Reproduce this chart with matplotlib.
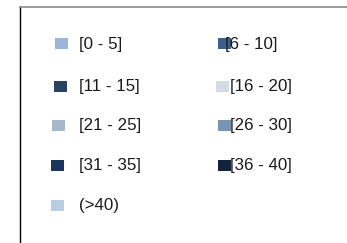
import matplotlib
matplotlib.use('Agg')
import matplotlib.pyplot as plt
from matplotlib.patches import Rectangle

# legend entries (row-major, two columns)
labels = ['[0 - 5]', '[6 - 10]', '[11 - 15]', '[16 - 20]', '[21 - 25]',
          '[26 - 30]', '[31 - 35]', '[36 - 40]', '(>40)']
colors = ['#9ab5d8', '#3d5f8f', '#2b4264', '#d3dce6', '#a8b8cc',
          '#7b93b3', '#1a355e', '#14233d', '#b8cce4']

W, H = 347, 243
fig = plt.figure(figsize=(W / 100, H / 100), dpi=100)
fig.patch.set_facecolor('white')

# frame: only top and left edges are visible in the crop
frame = fig.add_axes([20 / W, 0, 1, (H - 7) / H])
frame.set_xticks([])
frame.set_yticks([])
for side in ('right', 'bottom'):
    frame.spines[side].set_visible(False)
frame.spines['top'].set_color('#8a8a8a')
frame.spines['left'].set_color('#000000')
frame.spines['top'].set_linewidth(1.2)
frame.spines['left'].set_linewidth(1.0)

ax = fig.add_axes([0, 0, 1, 1])
ax.set_xlim(0, W)
ax.set_ylim(H, 0)
ax.axis('off')

# layout in pixels
sq_w, sq_h = 13, 11
row_ys = [44, 86, 125, 165, 205]
sq_x = [[55, 54, 52, 51, 51], [218, 216, 218, 218]]
txt_x = [[79, 79, 79, 79, 79], [225, 230, 230, 230]]

for i, (lab, col) in enumerate(zip(labels, colors)):
    c, r = i % 2, i // 2
    cy = row_ys[r]
    ax.add_patch(Rectangle((sq_x[c][r], cy - sq_h / 2), sq_w, sq_h,
                           facecolor=col, edgecolor='none', zorder=2))
    ax.text(txt_x[c][r], cy, lab, fontsize=12.2, ha='left', va='center',
            color='#1a1a1a', family='Liberation Sans', zorder=3)

fig.savefig('out.png', dpi=100, facecolor='white')
